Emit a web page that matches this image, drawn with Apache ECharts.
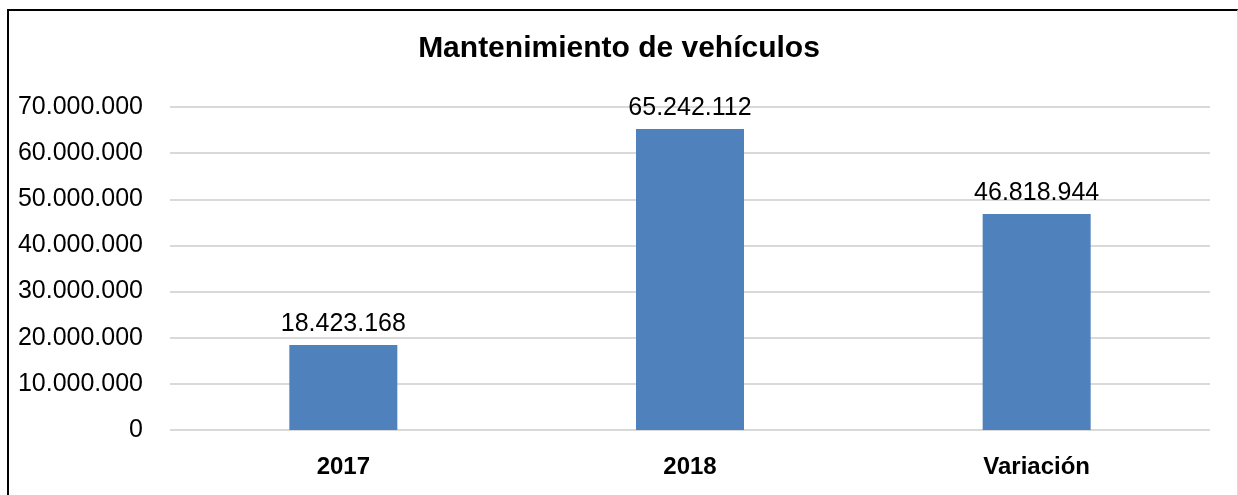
<!DOCTYPE html>
<html>
<head>
<meta charset="utf-8">
<script src="https://cdn.jsdelivr.net/npm/echarts@6/dist/echarts.min.js"></script>
<style>
    html, body { margin: 0; padding: 0; background: #fff; }
    #frame {
        position: absolute; left: 7px; top: 9px; width: 1228px; height: 490px;
        border-left: 2px solid #000; border-top: 2px solid #000; border-right: 1px solid #d9d9d9;
    }
    #chart { position: absolute; left: 0; top: 0; width: 1238px; height: 495px; }
</style>
</head>
<body>
<div id="frame"></div>
<div id="chart"></div>
<script>
// datos
const categorias = ['2017', '2018', 'Variación'];
const valores = [18423168, 65242112, 46818944];
const ticks = [0, 10000000, 20000000, 30000000, 40000000, 50000000, 60000000, 70000000];

const fuente = '"Liberation Sans", Arial, sans-serif';

function miles(v) {
    return String(v).replace(/\B(?=(\d{3})+(?!\d))/g, '.');
}

let option = {
    animation: false,
    title: {
        text: 'Mantenimiento de vehículos',
        left: 'center',
        top: 29,
        textStyle: {
            fontFamily: fuente,
            fontSize: 30,
            fontWeight: 'bold',
            color: '#000'
        }
    },
    grid: {
        left: 170,
        right: 28,
        top: 107,
        bottom: 65,
        outerBoundsMode: 'none'
    },
    xAxis: {
        type: 'category',
        data: categorias,
        axisLine: { show: false },
        axisTick: { show: false },
        axisLabel: {
            margin: 25,
            fontFamily: fuente,
            fontSize: 24,
            fontWeight: 'bold',
            color: '#000'
        }
    },
    yAxis: {
        type: 'value',
        min: ticks[0],
        max: ticks[ticks.length - 1],
        interval: ticks[1] - ticks[0],
        axisLine: { show: false },
        axisTick: { show: false },
        splitLine: { lineStyle: { color: '#d9d9d9', width: 2 } },
        axisLabel: {
            margin: 27,
            fontFamily: fuente,
            fontSize: 25,
            color: '#000',
            formatter: miles
        }
    },
    series: [{
        type: 'bar',
        data: valores,
        barWidth: 108,
        itemStyle: { color: '#4f81bd' },
        label: {
            show: true,
            position: 'top',
            distance: 8,
            fontFamily: fuente,
            fontSize: 25,
            color: '#000',
            formatter: p => miles(p.value)
        }
    }]
};

let chart = echarts.init(document.getElementById('chart'));
chart.setOption(option);
</script>
</body>
</html>
